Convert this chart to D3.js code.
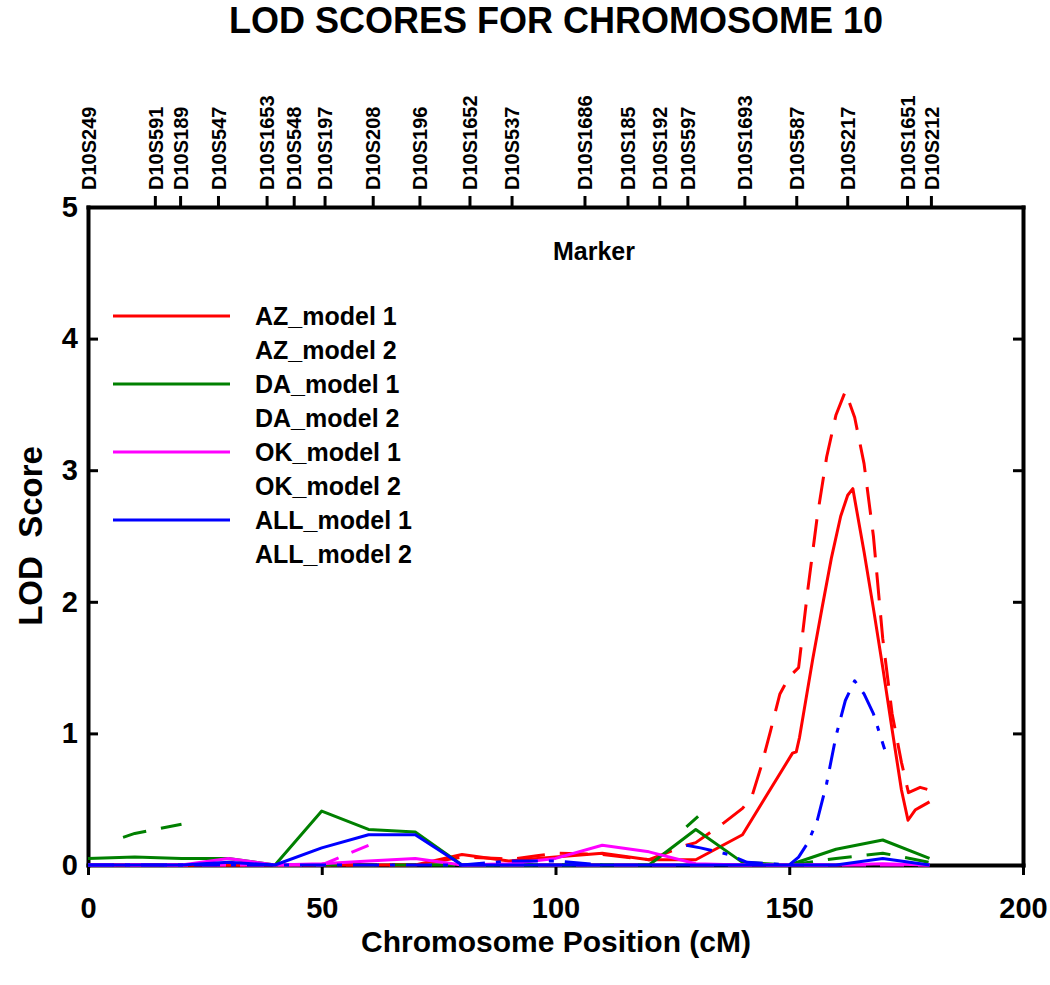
<!DOCTYPE html>
<html><head><meta charset="utf-8">
<script src="https://cdn.jsdelivr.net/npm/d3@7"></script>
<style>
body{margin:0;background:#fff}
text{font-family:"Liberation Sans",Arial,sans-serif;font-weight:bold;fill:#000}
</style>
</head><body>
<svg id="chart" width="1050" height="985"></svg>
<script>
// ---------- data ----------
const markerNames = ["D10S249","D10S591","D10S189","D10S547","D10S1653","D10S548","D10S197","D10S208","D10S196","D10S1652","D10S537","D10S1686","D10S185","D10S192","D10S597","D10S1693","D10S587","D10S217","D10S1651","D10S212"];
const markerPos = [0,14.3,19.7,27.8,38.2,44.0,50.6,60.9,70.9,81.6,90.6,106.2,115.4,122.2,128.2,140.4,151.5,162.4,175.2,180.3];
const xTicks = [0,50,100,150,200];
const yTicks = [0,1,2,3,4,5];
const seriesNames = ["AZ_model 1","AZ_model 2","DA_model 1","DA_model 2","OK_model 1","OK_model 2","ALL_model 1","ALL_model 2"];
const seriesColors = ["#ff0000","#ff0000","#008000","#008000","#ff00ff","#ff00ff","#0000ff","#0000ff"];

const azModel1Pos = [0,10,20,30,40,50,60,70,80,90,100,110,120,130,140,150.7,151.5,152.2,155,157,159,161,162.5,163.6,166,168,170,172,174,175.4,177,178,180];
const azModel1Lod = [0,0,0,0,0,0,0,0,0.08,0.03,0.06,0.09,0.04,0.04,0.23,0.85,0.86,0.97,1.56,1.95,2.33,2.65,2.81,2.86,2.38,1.95,1.5,1.03,0.57,0.34,0.42,0.44,0.48];

const azModel2Pos = [0,10,20,30,40,50,60,70,80,88,90,96,100,110,120,128,130,136,140,142,144,146,148,150,152,154,156,158,160,162,164,166,168,170,172,174,175.5,178,180];
const azModel2Lod = [0,0,0,0,0,0,0,0,0.06,0.05,0.04,0.07,0.09,0.08,0.04,0.15,0.17,0.32,0.43,0.52,0.75,1.02,1.3,1.43,1.5,2.1,2.65,3.1,3.42,3.6,3.4,3.05,2.5,1.72,1.15,0.78,0.55,0.59,0.57];

const daModel1Pos = [0,10,20,30,40,50,60,70,80,90,100,110,120,130,140,150,160,170,180];
const daModel1Lod = [0.05,0.06,0.05,0.05,0,0.41,0.27,0.25,0,0,0,0,0,0.27,0.02,0,0.12,0.19,0.05];

const daModel2Pos = [7.5,10,20,30,40,50,60,70,80,90,100,110,120,128,130.5,140,150,160,170,180];
const daModel2Lod = [0.21,0.24,0.31,null,0,0,0,0,0,0,0,0,null,0.29,0.37,null,0,0.05,0.09,0.02];

const okModel1Pos = [0,10,20,30,40,50,60,70,80,90,100,110,120,130,140,150,160,170,180];
const okModel1Lod = [0,0,0,0.05,0,0.01,0.03,0.05,0,0.01,0.05,0.15,0.1,0.01,0,0,0,0.01,0];

const okModel2Pos = [0,10,20,30,40,50,60,70,80,90,100,110,120,130,140,150,160,170,180];
const okModel2Lod = [0,0,0,0,0,0,0.15,null,0,0,0,0,0,0,0,0,0,0,0];

const allModel1Pos = [0,10,20,30,40,50,60,70,80,90,100,110,120,130,140,150,160,170,180];
const allModel1Lod = [0,0,0,0.02,0,0.13,0.23,0.23,0,0,0,0,0,0,0,0,0,0.05,0];

const allModel2Pos = [0,10,20,30,40,50,60,70,80,90,100,110,120,128,131,137,141,150,152,154,156,158,160,162,164,166,168,170.4];
const allModel2Lod = [0,0,0,0,0,0,0,0,0,0.03,0.03,0,null,0.15,0.13,0.08,0.02,0,0.06,0.17,0.34,0.62,0.98,1.25,1.4,1.3,1.15,0.88];

const seriesPos = [azModel1Pos,azModel2Pos,daModel1Pos,daModel2Pos,okModel1Pos,okModel2Pos,allModel1Pos,allModel2Pos];
const seriesLod = [azModel1Lod,azModel2Lod,daModel1Lod,daModel2Lod,okModel1Lod,okModel2Lod,allModel1Lod,allModel2Lod];
const seriesDash = [null,"28,15",null,"24,15",null,"24,14",null,"26,11,5,11"];

// ---------- drawing ----------
const svg = d3.select("#chart");
const L = 88, R = 1023, T = 207, B = 865;
const x = d3.scaleLinear().domain([0,200]).range([L,R]);
const y = d3.scaleLinear().domain([0,5]).range([B,T]);

// title
svg.append("text").attr("x",556).attr("y",33).attr("text-anchor","middle")
  .style("font-size","36px").text("LOD SCORES FOR CHROMOSOME 10");

const axisW = 4;

// bottom axis
const gB = svg.append("g").attr("transform",`translate(0,${B})`)
  .call(d3.axisBottom(x).tickValues(xTicks).tickSizeInner(10).tickSizeOuter(0).tickPadding(22).tickFormat(d3.format("d")));
// left axis
const gL = svg.append("g").attr("transform",`translate(${L},0)`)
  .call(d3.axisLeft(y).tickValues(yTicks).tickSizeInner(-10).tickSizeOuter(0).tickPadding(10).tickFormat(d3.format("d")));
// right axis
const gR = svg.append("g").attr("transform",`translate(${R},0)`)
  .call(d3.axisRight(y).tickValues(yTicks).tickSizeInner(-10).tickSizeOuter(0).tickFormat(""));
// top marker axis
const gT = svg.append("g").attr("transform",`translate(0,${T})`)
  .call(d3.axisTop(x).tickValues(markerPos).tickSizeInner(11).tickSizeOuter(0).tickFormat((d,i)=>markerNames[i]));

[gB,gL,gR,gT].forEach(g=>{
  g.select(".domain").attr("stroke","#000").attr("stroke-width",axisW).attr("stroke-linecap","square");
  g.selectAll(".tick line").attr("stroke","#000").attr("stroke-width",3);
});
gB.selectAll("text").style("font-size","29px").attr("dy","0.71em").attr("fill","#000");
gL.selectAll("text").style("font-size","29px").attr("fill","#000");
gL.selectAll(".tick").filter(d=>d===5||d===0).select("line").remove();
gR.selectAll(".tick").filter(d=>d===5||d===0).select("line").remove();
gT.selectAll(".tick").filter(d=>d===0).select("line").remove();
gT.selectAll("text")
  .attr("transform","rotate(-90)")
  .attr("x",17).attr("y",0).attr("dy","0.36em")
  .attr("text-anchor","start")
  .style("font-size","20px").attr("fill","#000");
gB.selectAll(".tick line").attr("y1",-1);

// lines
const line = d3.line().defined(d=>d[1]!=null).x(d=>x(d[0])).y(d=>y(d[1]));
const gLines = svg.append("g");
seriesNames.forEach((name,i)=>{
  const data = seriesPos[i].map((p,j)=>[p,seriesLod[i][j]]);
  gLines.append("path").datum(data)
    .attr("d",line).attr("fill","none")
    .attr("stroke",seriesColors[i]).attr("stroke-width",3)
    .attr("stroke-linejoin","round")
    .attr("stroke-dasharray",seriesDash[i]);
});

// "Marker" label
svg.append("text").attr("x",594).attr("y",260).attr("text-anchor","middle")
  .style("font-size","25px").text("Marker");

// legend
const legend = svg.append("g");
seriesNames.forEach((name,i)=>{
  const cy = 316 + i*34;
  if(!seriesDash[i]){
    legend.append("line").attr("x1",113).attr("x2",230).attr("y1",cy).attr("y2",cy)
      .attr("stroke",seriesColors[i]).attr("stroke-width",3);
  }
  legend.append("text").attr("x",255).attr("y",cy).attr("dy","0.36em")
    .style("font-size","25px").text(name);
});

// axis titles
svg.append("text").attr("x",556).attr("y",952).attr("text-anchor","middle")
  .style("font-size","30px").text("Chromosome Position (cM)");
svg.append("text").attr("transform","translate(42,536) rotate(-90)").attr("text-anchor","middle")
  .style("font-size","33px").style("white-space","pre").text("LOD  Score");
</script>
</body></html>
